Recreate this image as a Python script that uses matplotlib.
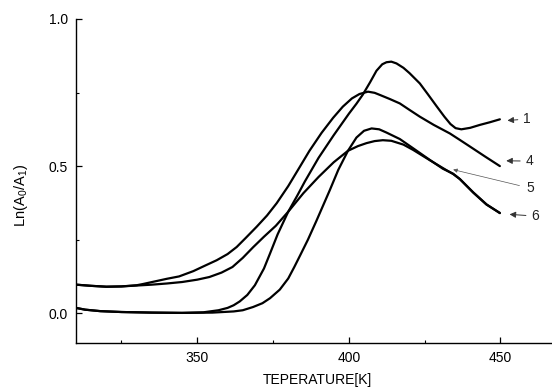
import matplotlib
matplotlib.use("Agg")
import matplotlib.pyplot as plt
from matplotlib.ticker import FixedLocator

plt.rcParams['font.family'] = ['Liberation Sans', 'DejaVu Sans']
plt.rcParams['mathtext.default'] = 'regular'

# Curve 1
t1 = [310, 313, 318, 325, 335, 345, 352, 357, 360, 362, 364, 366.5, 369, 372, 374, 376.5, 380,
      383, 385.5, 390, 395, 400, 402.5, 404.6, 407, 409.1, 411, 412.4, 414, 415.7, 418, 420,
      423.4, 426, 428.9, 431.5, 433.5, 435.2, 437.1, 440, 443.2, 446.5, 449.8]
v1 = [0.018, 0.012, 0.007, 0.004, 0.002, 0.001, 0.003, 0.010, 0.018, 0.027, 0.040, 0.062,
      0.095, 0.152, 0.203, 0.268, 0.345, 0.400, 0.448, 0.528, 0.605, 0.678, 0.712, 0.743,
      0.785, 0.824, 0.846, 0.853, 0.855, 0.849, 0.834, 0.816, 0.781, 0.745, 0.704, 0.668,
      0.643, 0.629, 0.625, 0.630, 0.640, 0.649, 0.659]

# Curve 4
t4 = [310, 315, 320, 325, 330, 332, 336, 340, 344, 348.7, 352, 356.4, 360, 363, 366, 369.6,
      373, 376.2, 380, 383.8, 387, 391, 394.8, 398, 401, 403.5, 406.3, 408.5, 410.2, 413.5,
      416.8, 420, 423.4, 428, 433.3, 436.6, 440, 445, 449.8]
v4 = [0.097, 0.093, 0.090, 0.091, 0.095, 0.099, 0.108, 0.117, 0.125, 0.143, 0.159, 0.180,
      0.201, 0.225, 0.256, 0.294, 0.332, 0.374, 0.432, 0.497, 0.552, 0.613, 0.664, 0.702,
      0.730, 0.745, 0.753, 0.749, 0.742, 0.728, 0.713, 0.691, 0.668, 0.640, 0.611, 0.589,
      0.566, 0.532, 0.500]

# Curve 5
t5 = [310, 315, 320, 325, 330, 335, 340, 345, 350, 354, 358, 361.6, 365, 368.4, 372, 375.9,
      380, 385, 390, 395, 399.7, 403, 405.8, 408.5, 411.2, 414, 418, 421.2, 426.7, 432.2,
      434.4, 436.6, 441, 445.4, 449.8]
v5 = [0.097, 0.093, 0.090, 0.091, 0.094, 0.097, 0.101, 0.106, 0.114, 0.123, 0.138, 0.157,
      0.188, 0.224, 0.260, 0.297, 0.345, 0.408, 0.463, 0.513, 0.552, 0.568, 0.578, 0.585,
      0.588, 0.586, 0.573, 0.555, 0.520, 0.486, 0.473, 0.456, 0.411, 0.370, 0.340]

# Curve 6
t6 = [310, 313, 318, 325, 335, 345, 355, 362, 365, 368.4, 371.5, 374, 377.2, 380, 382,
      384, 386.5, 389.3, 393.7, 396.5, 399.7, 402.5, 405, 407.5, 410, 412.4, 416.8, 421,
      426.7, 431, 434.4, 436.6, 441, 445.4, 449.8]
v6 = [0.018, 0.012, 0.007, 0.004, 0.002, 0.001, 0.002, 0.006, 0.010, 0.021, 0.034, 0.051,
      0.080, 0.118, 0.157, 0.198, 0.250, 0.314, 0.418, 0.487, 0.552, 0.597, 0.620, 0.628,
      0.625, 0.614, 0.592, 0.562, 0.521, 0.491, 0.474, 0.456, 0.410, 0.369, 0.341]

labels = ["1", "4", "5", "6"]
label_xy = [(458.8, 0.660), (459.6, 0.517), (459.8, 0.425), (461.5, 0.330)]
arrow_tip = [(452.3, 0.655), (451.9, 0.518), (434.4, 0.488), (453.0, 0.336)]

xticks = [350, 400, 450]
yticks = [0.0, 0.5, 1.0]
xlabel = "TEPERATURE[K]"
ylabel = "Ln(A$_0$/A$_1$)"

fig = plt.figure(figsize=(5.52, 3.90), dpi=100)
ax = fig.add_axes([0.1377, 0.1215, 0.8623, 0.8298])

for t, v in [(t1, v1), (t4, v4), (t5, v5), (t6, v6)]:
    ax.plot(t, v, color='black', lw=1.6, solid_capstyle='round', solid_joinstyle='round')

for lab, xy, tip in zip(labels, label_xy, arrow_tip):
    if lab == "5":
        props = dict(arrowstyle='-|>', lw=0.5, color='#555555', shrinkA=3, shrinkB=0,
                     mutation_scale=6)
    else:
        props = dict(arrowstyle='-|>', lw=0.7, color='#333333', shrinkA=2, shrinkB=0,
                     mutation_scale=9)
    ax.annotate(lab, xy=tip, xytext=xy, ha='center', va='center', fontsize=10,
                color='#222222', arrowprops=props)

ax.set_xlim(310, 467)
ax.set_ylim(-0.1, 1.0)
ax.xaxis.set_major_locator(FixedLocator(xticks))
ax.xaxis.set_minor_locator(FixedLocator([325, 375, 425]))
ax.yaxis.set_major_locator(FixedLocator(yticks))
ax.yaxis.set_minor_locator(FixedLocator([0.25, 0.75]))
ax.set_xticklabels([str(x) for x in xticks])
ax.set_yticklabels(["%.1f" % y for y in yticks])

ax.spines['top'].set_visible(False)
ax.spines['right'].set_visible(False)
for s in ['left', 'bottom']:
    ax.spines[s].set_linewidth(1.0)

ax.tick_params(which='major', direction='in', length=4, width=0.9, labelsize=10, pad=6)
ax.tick_params(which='minor', direction='in', length=2.5, width=0.8)

ax.set_xlabel(xlabel, fontsize=10)
ax.set_ylabel(ylabel, fontsize=10.5)
ax.xaxis.set_label_coords(0.508, -0.093)
ax.yaxis.set_label_coords(-0.097, 0.455)

fig.savefig("out.png", dpi=100)
